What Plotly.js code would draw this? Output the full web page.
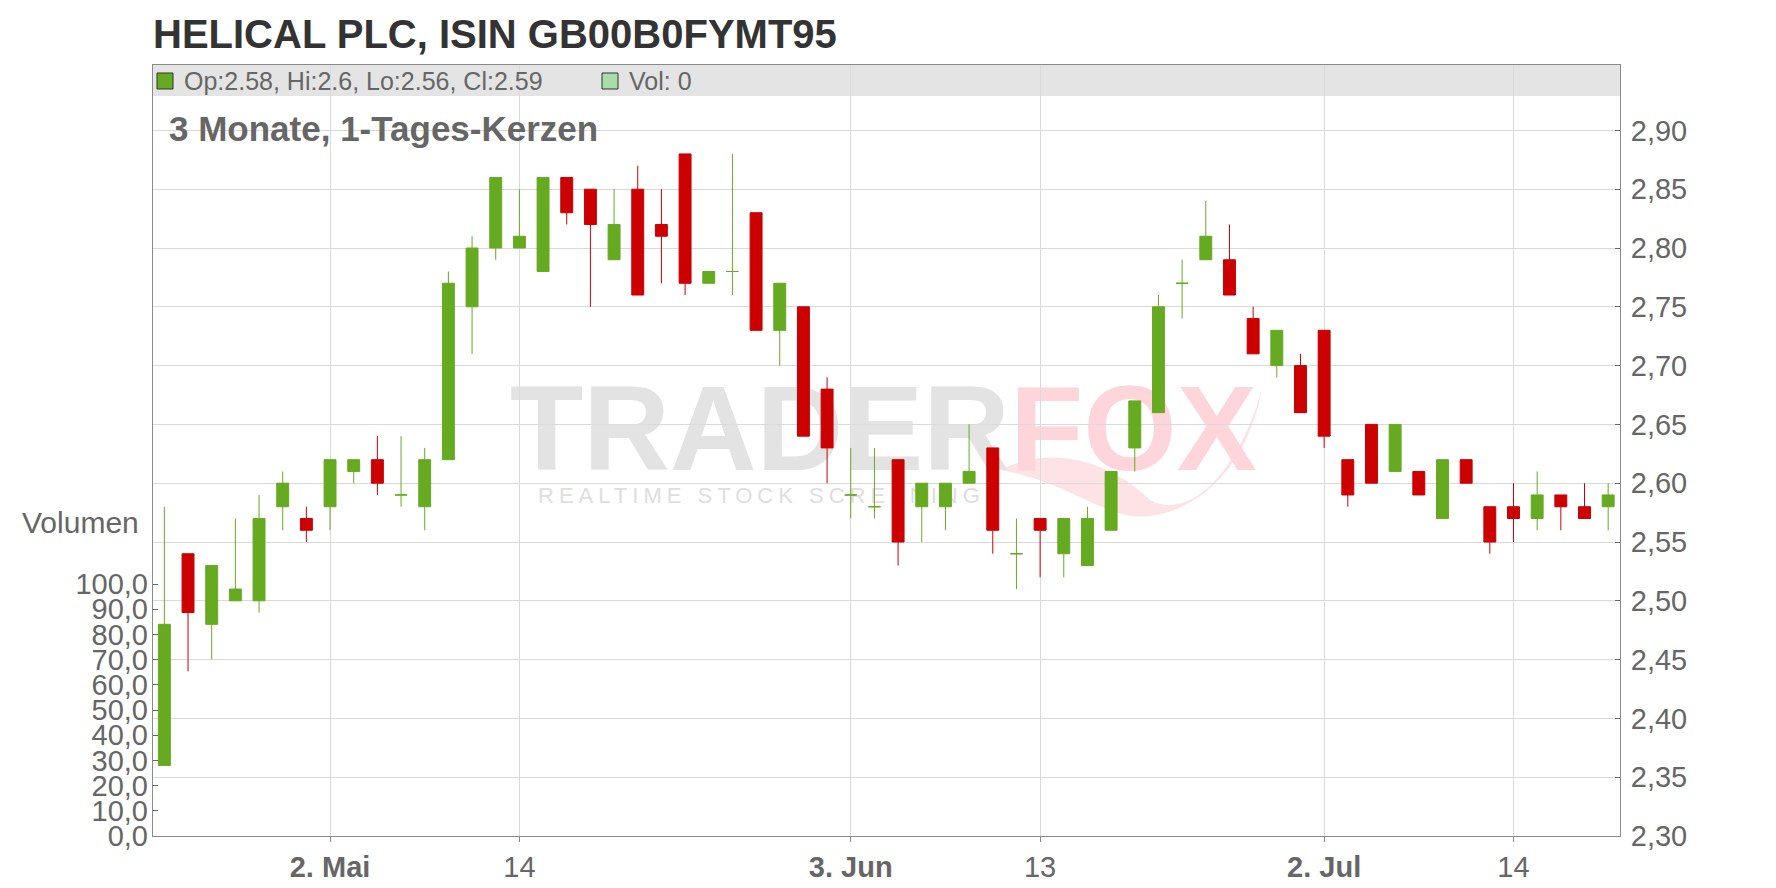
<!DOCTYPE html>
<html><head><meta charset="utf-8">
<script src="https://cdn.plot.ly/plotly-3.0.1.min.js"></script>
<style>
html,body{margin:0;padding:0;background:#fff;}
#wrap{position:relative;width:1776px;height:888px;overflow:hidden;}
#wm{position:absolute;left:0;top:0;}
#chart{position:absolute;left:0;top:0;width:1776px;height:888px;}
</style></head>
<body><div id="wrap">
<svg id="wm" width="1776" height="888" xmlns="http://www.w3.org/2000/svg">
  <path d="M 1000 470 C 1060 440, 1120 470, 1150 500 C 1190 522, 1240 470, 1262 388 C 1252 450, 1212 508, 1150 516 C 1108 522, 1070 482, 1000 470 Z" fill="#fde3e6"/>
  <text x="510" y="470" font-family="Liberation Sans, Arial, sans-serif" font-weight="700" font-size="120" fill="#e3e3e3">TRADER<tspan fill="#fdd5da">FOX</tspan></text>
  <text x="538" y="503" font-family="Liberation Sans, Arial, sans-serif" font-size="22" letter-spacing="5" fill="#dedede">REALTIME STOCK SCREENING</text>
</svg>
<div id="chart"></div></div>
<script>
// ---- data ----
const dates = [
 '2025-04-22','2025-04-23','2025-04-24','2025-04-25','2025-04-28','2025-04-29','2025-04-30','2025-05-02',
 '2025-05-05','2025-05-06','2025-05-07','2025-05-08','2025-05-09','2025-05-12','2025-05-13','2025-05-14',
 '2025-05-15','2025-05-16','2025-05-19','2025-05-20','2025-05-21','2025-05-22','2025-05-23','2025-05-26',
 '2025-05-27','2025-05-28','2025-05-29','2025-05-30','2025-06-02','2025-06-03','2025-06-04','2025-06-05',
 '2025-06-06','2025-06-09','2025-06-10','2025-06-11','2025-06-12','2025-06-13','2025-06-16','2025-06-17',
 '2025-06-18','2025-06-20','2025-06-23','2025-06-24','2025-06-25','2025-06-26','2025-06-27','2025-06-30',
 '2025-07-01','2025-07-02','2025-07-03','2025-07-04','2025-07-07','2025-07-08','2025-07-09','2025-07-10',
 '2025-07-11','2025-07-14','2025-07-15','2025-07-16','2025-07-17','2025-07-18'];
const openP  = [2.36,2.54,2.48,2.50,2.50,2.58,2.57,2.58, 2.61,2.62,2.59,2.58,2.62,2.75,2.80,2.80,
                2.78,2.86,2.85,2.79,2.85,2.82,2.88,2.77, 2.78,2.83,2.73,2.75,2.68,2.59,2.58,2.62,
                2.58,2.58,2.60,2.63,2.54,2.57,2.54,2.53, 2.56,2.63,2.66,2.77,2.79,2.79,2.74,2.70,
                2.70,2.73,2.62,2.65,2.61,2.61,2.57,2.62, 2.58,2.58,2.57,2.59,2.58,2.58];
const highP  = [2.58,2.54,2.53,2.57,2.59,2.61,2.58,2.62, 2.62,2.64,2.64,2.63,2.78,2.81,2.86,2.85,
                2.86,2.86,2.85,2.85,2.87,2.85,2.88,2.78, 2.88,2.83,2.77,2.75,2.69,2.63,2.63,2.62,
                2.60,2.60,2.65,2.63,2.57,2.57,2.57,2.58, 2.61,2.67,2.76,2.79,2.84,2.82,2.75,2.73,
                2.71,2.73,2.62,2.65,2.65,2.61,2.62,2.62, 2.58,2.60,2.61,2.59,2.60,2.60];
const lowP   = [2.36,2.44,2.45,2.50,2.49,2.56,2.55,2.56, 2.60,2.59,2.58,2.56,2.62,2.71,2.79,2.80,
                2.78,2.82,2.75,2.79,2.76,2.77,2.76,2.77, 2.76,2.73,2.70,2.64,2.60,2.57,2.57,2.53,
                2.55,2.56,2.60,2.54,2.51,2.52,2.52,2.53, 2.56,2.61,2.66,2.74,2.79,2.76,2.71,2.69,
                2.66,2.63,2.58,2.60,2.61,2.59,2.57,2.60, 2.54,2.55,2.56,2.56,2.57,2.56];
const closeP = [2.48,2.49,2.53,2.51,2.57,2.60,2.56,2.62, 2.62,2.60,2.59,2.62,2.77,2.80,2.86,2.81,
                2.86,2.83,2.82,2.82,2.76,2.81,2.77,2.78, 2.78,2.73,2.77,2.64,2.63,2.59,2.58,2.55,
                2.60,2.60,2.61,2.56,2.54,2.56,2.57,2.57, 2.61,2.67,2.75,2.77,2.81,2.76,2.71,2.73,
                2.66,2.64,2.59,2.60,2.65,2.59,2.62,2.60, 2.55,2.57,2.59,2.58,2.57,2.59];
const lastVolume = 0;
const tickDates  = ['2025-05-02','2025-05-14','2025-06-03','2025-06-13','2025-07-02','2025-07-14'];
const tickLabels = ['<b>2. Mai</b>','14','<b>3. Jun</b>','13','<b>2. Jul</b>','14'];
const priceTicks = [2.30,2.35,2.40,2.45,2.50,2.55,2.60,2.65,2.70,2.75,2.80,2.85,2.90];
const volumeTicks = [0,10,20,30,40,50,60,70,80,90,100];

// ---- styling ----
const GREEN = '#66aa22', RED = '#cc0000', GREY = '#666666';
const FONT = 'Liberation Sans, Arial, sans-serif';
const W = 1776, H = 888, L = 153, R = 1620, T = 65, B = 836;
const px = x => (x - L) / (R - L);
const py = y => (B - y) / (B - T);
const pxPerUnit = 1176;           // price scale
const volPxPerUnit = 2.52;        // volume scale

function pick(arr, cond) { return arr.filter((v, i) => cond(i)); }
const isUp = i => closeP[i] >= openP[i];
const isDown = i => closeP[i] < openP[i];

function candle(cond, col) {
  return {
    type: 'candlestick', yaxis: 'y',
    x: pick(dates, cond), open: pick(openP, cond), high: pick(highP, cond),
    low: pick(lowP, cond), close: pick(closeP, cond),
    increasing: {line: {color: col, width: 1}, fillcolor: col},
    decreasing: {line: {color: col, width: 1}, fillcolor: col},
    whiskerwidth: 0, hoverinfo: 'skip', showlegend: false
  };
}

const n = dates.length - 1;
const legendText = 'Op:' + openP[n] + ', Hi:' + highP[n] + ', Lo:' + lowP[n] + ', Cl:' + closeP[n];

const layout = {
  width: W, height: H,
  margin: {l: L, r: W - R, t: T, b: H - B, pad: 0},
  paper_bgcolor: 'rgba(0,0,0,0)', plot_bgcolor: 'rgba(0,0,0,0)',
  separators: ',.',
  font: {family: FONT, color: GREY, size: 30},
  showlegend: false, hovermode: false,
  boxgap: 0.28,
  title: {text: '<b>HELICAL PLC, ISIN GB00B0FYMT95</b>', x: 0, xref: 'paper', xanchor: 'left',
          y: 1 - 34 / H, yref: 'container', yanchor: 'middle',
          font: {family: FONT, size: 40, color: '#333333'}},
  xaxis: {
    type: 'category', categoryorder: 'array', categoryarray: dates,
    range: [-0.48, n + 0.5],
    rangeslider: {visible: false},
    tickvals: tickDates, ticktext: tickLabels,
    ticks: 'outside', ticklen: 5, tickcolor: '#888', tickwidth: 1,
    tickfont: {size: 29, color: GREY},
    showgrid: true, gridcolor: '#dadada', gridwidth: 1,
    showline: true, linecolor: '#8a8a8a', linewidth: 1, mirror: true,
    zeroline: false, fixedrange: true
  },
  yaxis: {
    side: 'right', range: [2.30, 2.30 + (B - T) / pxPerUnit],
    tickvals: priceTicks, tickformat: '.2f',
    ticks: 'inside', ticklen: 5, tickcolor: '#666', tickwidth: 1,
    tickfont: {size: 29, color: GREY}, ticklabelstandoff: 4,
    showgrid: true, gridcolor: '#dadada', gridwidth: 1,
    showline: true, linecolor: '#8a8a8a', linewidth: 1, mirror: true,
    zeroline: false, fixedrange: true
  },
  yaxis2: {
    overlaying: 'y', side: 'left', range: [0, (B - T) / volPxPerUnit],
    tickvals: volumeTicks, tickformat: '.1f',
    ticks: 'inside', ticklen: 5, tickcolor: '#666', tickwidth: 1,
    tickfont: {size: 29, color: GREY}, ticklabelstandoff: 4,
    showgrid: false, showline: false, zeroline: false, fixedrange: true
  },
  shapes: [
    {type: 'rect', xref: 'paper', yref: 'paper', x0: 0, x1: 1, y0: py(96), y1: 1,
     fillcolor: '#e4e4e4', line: {width: 0}, layer: 'below'},
    {type: 'rect', xref: 'paper', yref: 'paper', x0: px(157), x1: px(173), y0: py(89), y1: py(73),
     fillcolor: GREEN, line: {color: '#333', width: 1}},
    {type: 'rect', xref: 'paper', yref: 'paper', x0: px(602), x1: px(618), y0: py(89), y1: py(73),
     fillcolor: '#a8dca8', line: {color: '#333', width: 1}}
  ],
  annotations: [
    {text: legendText, xref: 'paper', yref: 'paper', x: px(182), y: py(81), xanchor: 'left', yanchor: 'middle',
     showarrow: false, font: {size: 25, color: GREY}},
    {text: 'Vol: ' + lastVolume, xref: 'paper', yref: 'paper', x: px(627), y: py(81), xanchor: 'left', yanchor: 'middle',
     showarrow: false, font: {size: 25, color: GREY}},
    {text: '<b>3 Monate, 1-Tages-Kerzen</b>', xref: 'paper', yref: 'paper', x: px(167), y: py(128),
     xanchor: 'left', yanchor: 'middle', showarrow: false, font: {size: 35, color: GREY}},
    {text: 'Volumen', xref: 'paper', yref: 'paper', x: px(141), y: py(522), xanchor: 'right', yanchor: 'middle',
     showarrow: false, font: {size: 30, color: GREY}}
  ]
};

const volTrace = {type: 'scatter', x: [dates[0]], y: [null], yaxis: 'y2', mode: 'lines', hoverinfo: 'skip', showlegend: false};

Plotly.newPlot('chart', [volTrace, candle(isUp, GREEN), candle(isDown, RED)], layout, {displayModeBar: false, staticPlot: true});
</script>
</body></html>
